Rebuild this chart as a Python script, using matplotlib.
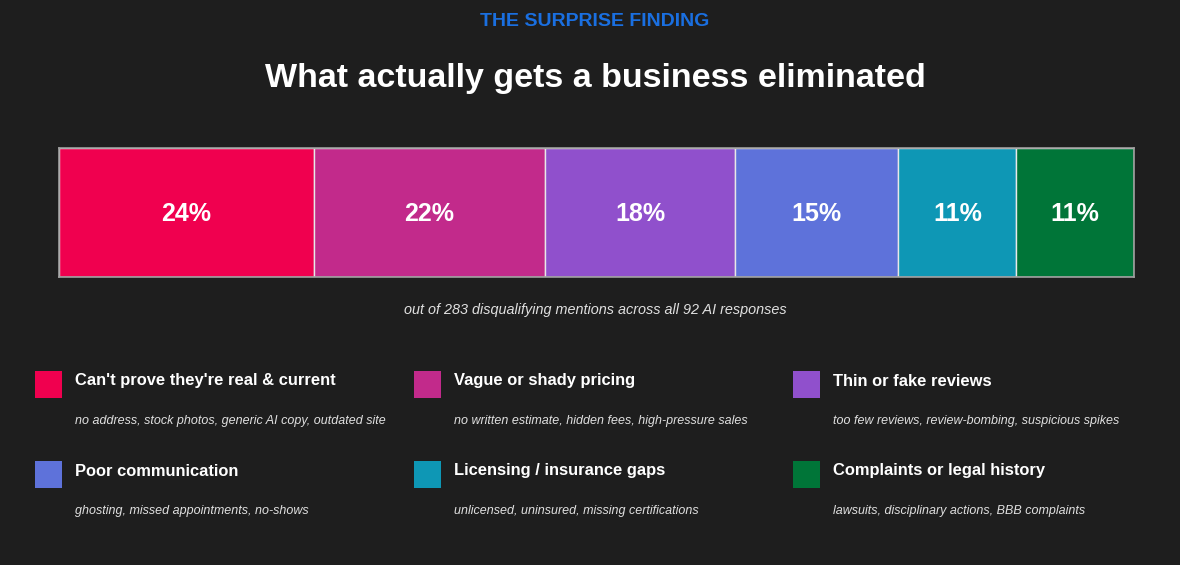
import matplotlib.pyplot as plt
from matplotlib.patches import Rectangle

plt.rcParams['font.family'] = ['Liberation Sans', 'DejaVu Sans']

# data
categories = ["Can't prove they're real & current", "Vague or shady pricing",
              "Thin or fake reviews", "Poor communication",
              "Licensing / insurance gaps", "Complaints or legal history"]
descriptions = ["no address, stock photos, generic AI copy, outdated site",
                "no written estimate, hidden fees, high-pressure sales",
                "too few reviews, review-bombing, suspicious spikes",
                "ghosting, missed appointments, no-shows",
                "unlicensed, uninsured, missing certifications",
                "lawsuits, disciplinary actions, BBB complaints"]
counts = [67, 61, 50, 43, 31, 31]
colors = ["#F0004F", "#C22A8B", "#9050CC", "#5E72DA", "#0E97B5", "#007538"]
total = sum(counts)

W, H = 1180, 565
bg = "#1E1E1E"
fig = plt.figure(figsize=(W / 100, H / 100), dpi=100, facecolor=bg)


def fx(x):
    return x / W


def fy(y):
    return 1 - y / H


# headings
fig.text(fx(595), fy(21), "THE SURPRISE FINDING", color="#1A6FE0",
         fontsize=14, fontweight="bold", ha="center", va="center")
fig.text(fx(595), fy(78), "What actually gets a business eliminated", color="white",
         fontsize=24.5, fontweight="bold", ha="center", va="center")

# stacked bar
ax = fig.add_axes([fx(59), fy(277), fx(1134) - fx(59), (277 - 148) / H])
ax.set_facecolor(bg)
left = 0
for c, col in zip(counts, colors):
    ax.barh(0, c, left=left, height=1, color=col, edgecolor="#E8E8E8", linewidth=1)
    ax.text(left + c / 2, -0.015, f"{round(100 * c / total)}%", color="white",
            fontsize=18, fontweight="bold", ha="center", va="center")
    left += c
ax.set_xlim(0, total)
ax.set_ylim(-0.5, 0.5)
ax.set_xticks([])
ax.set_yticks([])
for s in ax.spines.values():
    s.set_color("#A0A0A0")
    s.set_linewidth(1.2)

fig.text(fx(595), fy(310), f"out of {total} disqualifying mentions across all 92 AI responses",
         color="#E0E0E0", fontsize=10.4, fontstyle="italic", ha="center", va="center")

# legend grid
col_x = [35, 414, 793]
row_y = [371, 461]
for i, (cat, desc, col) in enumerate(zip(categories, descriptions, colors)):
    x0 = col_x[i % 3]
    y0 = row_y[i // 3]
    fig.patches.append(Rectangle((fx(x0), fy(y0 + 27)), 27 / W, 27 / H,
                                 transform=fig.transFigure, facecolor=col,
                                 edgecolor="none"))
    fig.text(fx(x0 + 40), fy(y0 + 10), cat, color="white", fontsize=11.9,
             fontweight="bold", ha="left", va="center")
    fig.text(fx(x0 + 40), fy(y0 + 50), desc, color="#E0E0E0", fontsize=9,
             fontstyle="italic", ha="left", va="center")

fig.savefig("out.png", dpi=100, facecolor=bg)
